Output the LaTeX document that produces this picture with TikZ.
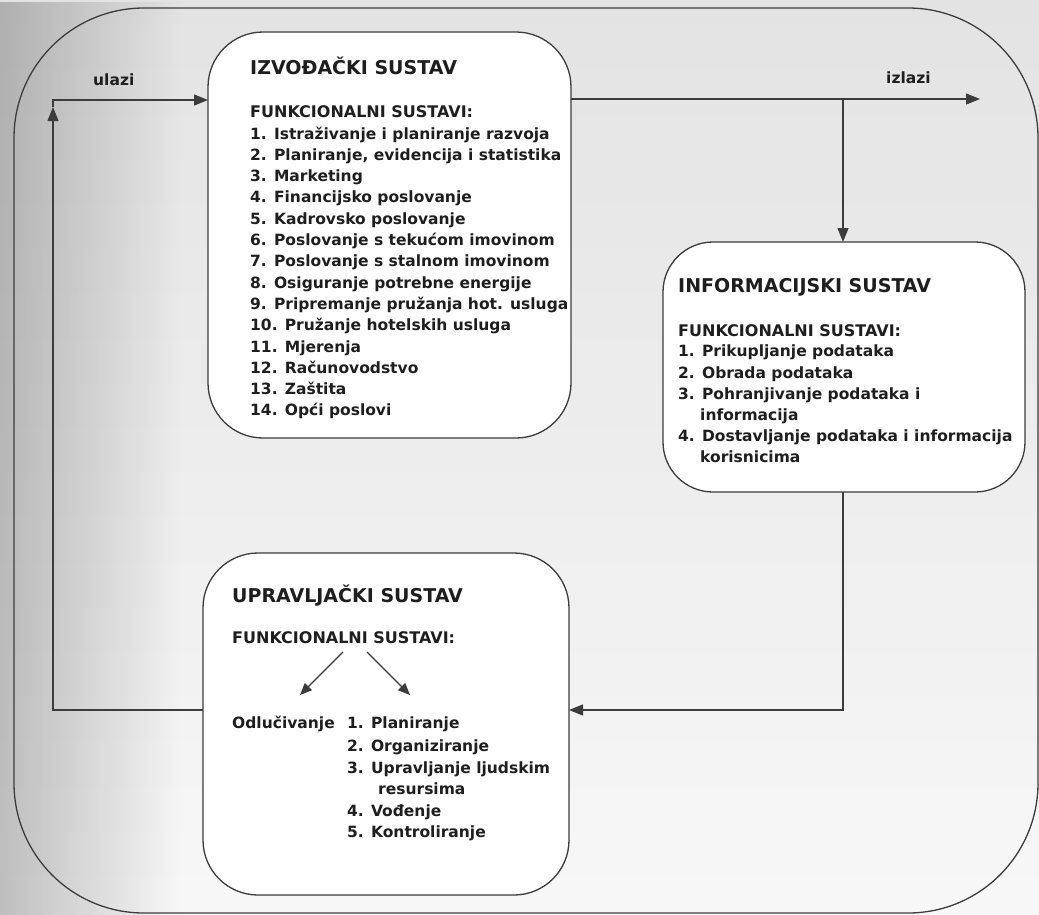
\documentclass[tikz,border=0pt]{standalone}
\usepackage{fontspec}
\setmainfont{DejaVu Sans}
\usetikzlibrary{arrows.meta,fadings}
\definecolor{ink}{HTML}{1E1E1E}
\definecolor{linec}{HTML}{3C3C3C}

\begin{document}
\begin{tikzpicture}[x=1pt,y=-1pt,
  box/.style={draw=linec, line width=1.3pt, fill=white, inner sep=0pt, outer sep=0pt},
  conn/.style={draw=linec, line width=1.3pt},
  tip/.style={-{Triangle[length=14pt,width=11pt]}},
  smalltip/.style={-{Triangle[length=12pt,width=10pt]}},
  title/.style={anchor=base west, inner sep=0pt, text=ink, font=\fontsize{19}{23}\selectfont\bfseries},
  head/.style={anchor=base west, inner sep=0pt, text=ink, font=\fontsize{16}{20}\selectfont\bfseries},
  item/.style={anchor=base west, inner sep=0pt, text=ink, font=\fontsize{15.5}{21}\selectfont\bfseries},
]
% page background with the darker strip on the left
\useasboundingbox (0,0) rectangle (1039,914);
\shade[top color=black!11, bottom color=black!3] (0,0) rectangle (1039,914);
\fill[black, opacity=0.3, path fading=east] (-60,0) rectangle (180,914);

% outer frame
\node[box, fill=none, rounded corners=130pt, minimum width=1024pt, minimum height=905pt] (frame) at (526,460.5) {};

% the three subsystems
\node[box, rounded corners=55pt, minimum width=363pt, minimum height=406pt] (izv) at (389.5,235) {};
\node[box, rounded corners=50pt, minimum width=362pt, minimum height=250pt] (inf) at (844,367) {};
\node[box, rounded corners=55pt, minimum width=366pt, minimum height=342pt] (upr) at (386,724) {};

% executive system
\node[title] (izvT) at (250,74) {IZVOĐAČKI SUSTAV};
\node[head] (izvH) at (250,117) {FUNKCIONALNI SUSTAVI:};
\foreach \t [count=\i] in {
  {1. Istraživanje i planiranje razvoja},
  {2. Planiranje, evidencija i statistika},
  {3. Marketing},
  {4. Financijsko poslovanje},
  {5. Kadrovsko poslovanje},
  {6. Poslovanje s tekućom imovinom},
  {7. Poslovanje s stalnom imovinom},
  {8. Osiguranje potrebne energije},
  {9. Pripremanje pružanja hot. usluga},
  {10. Pružanje hotelskih usluga},
  {11. Mjerenja},
  {12. Računovodstvo},
  {13. Zaštita},
  {14. Opći poslovi}}
  \node[item] (izvL\i) at (250,{117.7+21.3*\i}) {\t};

% information system
\node[title] (infT) at (678,292) {INFORMACIJSKI SUSTAV};
\node[head] (infH) at (678,336) {FUNKCIONALNI SUSTAVI:};
\node[item] (infL1) at (678,356) {1. Prikupljanje podataka};
\node[item] (infL2) at (678,378) {2. Obrada podataka};
\node[item] (infL3) at (678,399) {3. Pohranjivanje podataka i};
\node[item] (infL3b) at (700,420) {informacija};
\node[item] (infL4) at (678,441) {4. Dostavljanje podataka i informacija};
\node[item] (infL4b) at (700,462) {korisnicima};

% management system
\node[title] (uprT) at (232,602) {UPRAVLJAČKI SUSTAV};
\node[head] (uprH) at (232,643) {FUNKCIONALNI SUSTAVI:};
\node[item] (uprO) at (232,728) {Odlučivanje};
\node[item] (uprL1) at (347,728) {1. Planiranje};
\node[item] (uprL2) at (347,751) {2. Organiziranje};
\node[item] (uprL3) at (347,773) {3. Upravljanje ljudskim};
\node[item] (uprL3b) at (378,794) {resursima};
\node[item] (uprL4) at (347,816) {4. Vođenje};
\node[item] (uprL5) at (347,837) {5. Kontroliranje};

\coordinate (ua1) at (343,652);
\coordinate (ua2) at (300,695);
\coordinate (ub1) at (367,652);
\coordinate (ub2) at (410,695);
\draw[conn, smalltip] (ua1) -- (ua2);
\draw[conn, smalltip] (ub1) -- (ub2);

% flow labels
\node[item] (inLbl) at (93,85) {ulazi};
\node[item] (outLbl) at (886,83) {izlazi};

% inputs: feedback from management back into the executive system
\coordinate (loopB) at (53,710);
\coordinate (loopUp) at (53,107);
\coordinate (loopT) at (53,100);
\draw[conn, tip] (upr.west |- loopB) -- (loopB) -- (loopUp);
\draw[conn, tip] (loopUp) -- (loopT) -- (izv.west |- loopT);

% outputs and the branch to the information system
\coordinate (outR) at (980,99);
\coordinate (split) at (843,99);
\draw[conn, tip] (izv.east |- outR) -- (outR);
\draw[conn, tip] (split) -- (inf.north -| split);

% information system reports to management
\coordinate (retC) at (843,710);
\draw[conn, tip] (inf.south -| retC) -- (retC) -- (upr.east |- retC);
\end{tikzpicture}
\end{document}
